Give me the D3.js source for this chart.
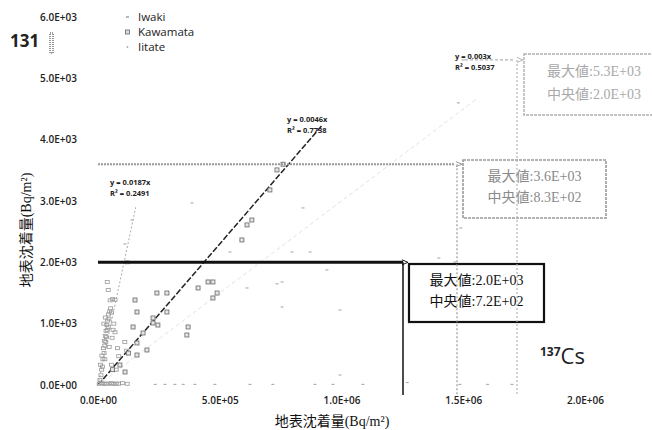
<!DOCTYPE html>
<html>
<head>
<meta charset="utf-8">
<script src="https://cdn.jsdelivr.net/npm/d3@7/dist/d3.min.js"></script>
<style>
  body { margin: 0; background: #fff; }
  text { font-family: "Open Sans", "Liberation Sans", sans-serif; }
</style>
</head>
<body>
<svg id="chart" width="652" height="430"></svg>
<script>
// ---- data ----
const seriesNames = ["Iwaki", "Kawamata", "Iitate"];
const xTicks = [0, 5e5, 1e6, 1.5e6, 2e6];
const yTicks = [0, 1000, 2000, 3000, 4000, 5000, 6000];

// 137Cs deposition (x) vs 131I deposition (y), Bq/m2
const iwakiPts = [
  [8e3, 80], [12e3, 160], [15e3, 250], [10e3, 330], [18e3, 300], [20e3, 420],
  [16e3, 480], [25e3, 520], [22e3, 600], [28e3, 640], [26e3, 720], [32e3, 700],
  [30e3, 800], [35e3, 780], [33e3, 880], [38e3, 900], [36e3, 980], [42e3, 950],
  [40e3, 1050], [45e3, 1080], [43e3, 1150], [48e3, 1200], [52e3, 1250], [55e3, 1180],
  [50e3, 1380], [60e3, 1400], [70e3, 1390], [42e3, 1550], [38e3, 1680], [65e3, 1000],
  [70e3, 860], [80e3, 600], [85e3, 470], [110e3, 700], [118e3, 560], [75e3, 250],
  [55e3, 330], [120e3, 2000], [28e3, 420], [46e3, 620], [58e3, 770], [62e3, 900],
  [24e3, 1000], [30e3, 1100], [5e3, 20], [15e3, 30], [25e3, 15], [35e3, 25],
  [45e3, 20], [55e3, 30], [65e3, 15], [75e3, 25], [85e3, 20], [100e3, 30], [120e3, 20]
];
const kawamataPts = [
  [152e3, 1386], [242e3, 1500], [283e3, 1500], [160e3, 1190], [283e3, 1190],
  [144e3, 946], [226e3, 1011], [246e3, 978], [185e3, 848], [160e3, 685],
  [201e3, 571], [160e3, 489], [370e3, 946], [365e3, 815], [226e3, 1093],
  [452e3, 1680], [472e3, 1680], [411e3, 1582], [489e3, 1500], [472e3, 1419],
  [632e3, 2690], [612e3, 2610], [591e3, 2365], [735e3, 3507], [706e3, 3180],
  [760e3, 3600], [111e3, 212], [90e3, 326], [60e3, 250], [125e3, 520]
];
const iitatePts = [
  [842e3, 2887], [797e3, 2169], [871e3, 2169], [940e3, 1876], [756e3, 1680],
  [735e3, 1650], [756e3, 1272], [583e3, 2006], [542e3, 2169], [612e3, 1582],
  [386e3, 2968], [140e3, 2690], [110e3, 2300], [994e3, 1223], [994e3, 163],
  [1.40e6, 2071], [1.466e6, 2006], [1.49e6, 2560], [1.50e6, 5300], [1.48e6, 4600],
  [480e3, 10], [624e3, 10], [718e3, 10], [891e3, 10], [965e3, 10], [1.088e6, 10],
  [1.27e6, 40], [1.486e6, 10], [1.60e6, 10], [1.70e6, 10],
  [235e3, 10], [275e3, 10], [316e3, 10], [350e3, 10], [398e3, 10]
];

// linear fits through the origin
const slopes = [0.0187, 0.0046, 0.003];
const rSquared = ["0.2491", "0.7738", "0.5037"];
const fitEnds = [1.55e5, 9.2e5, 1.55e6];

// 131I summary per area
const maxI = [2000, 3600, 5300];
const medI = [720, 830, 2000];

// ---- layout ----
const svg = d3.select("#chart");
const x = d3.scaleLinear().domain([0, 2e6]).range([98, 585]);
const y = d3.scaleLinear().domain([0, 6000]).range([385, 17]);
const fmt = v => v.toExponential(1).toUpperCase().replace(/E([+-])(\d)$/, "E$10$2");
const serif = "'Liberation Serif', 'Noto Sans CJK JP', serif";

// axes (no axis line, labels only)
const yAxis = svg.append("g").attr("transform", "translate(80,0)")
  .call(d3.axisLeft(y).tickValues(yTicks).tickSize(0).tickPadding(3).tickFormat(fmt));
const xAxis = svg.append("g").attr("transform", "translate(0,390)")
  .call(d3.axisBottom(x).tickValues(xTicks).tickSize(0).tickPadding(7).tickFormat(fmt));
[yAxis, xAxis].forEach(g => {
  g.select(".domain").remove();
  g.selectAll("text").attr("font-size", 10).attr("font-weight", 600).attr("fill", "#222")
    .style("font-family", "'Open Sans', sans-serif");
});

// axis titles
svg.append("text").attr("x", 332).attr("y", 426).attr("text-anchor", "middle")
  .attr("font-size", 14).attr("fill", "#111").style("font-family", serif)
  .text("地表沈着量(Bq/m²)");
svg.append("text").attr("transform", "translate(31,230) rotate(-90)").attr("text-anchor", "middle")
  .attr("font-size", 14).attr("fill", "#111").style("font-family", serif)
  .text("地表沈着量(Bq/m²)");

// nuclide tags
svg.append("text").attr("x", 10).attr("y", 47).attr("font-size", 17).attr("font-weight", 700)
  .attr("fill", "#222").text("131");
svg.append("rect").attr("x", 50).attr("y", 33).attr("width", 3).attr("height", 20)
  .attr("fill", "none").attr("stroke", "#333").attr("stroke-width", 1).attr("stroke-dasharray", "1,1");
const cs = svg.append("text").attr("x", 540).attr("y", 364).attr("fill", "#222");
cs.append("tspan").attr("font-size", 12).attr("font-weight", 700).attr("dy", -8).text("137");
cs.append("tspan").attr("font-size", 22).attr("dy", 8).text("Cs");

// trend lines
const lineStyles = [
  { stroke: "#aaa", width: 1, dash: "2,2" },
  { stroke: "#222", width: 1.5, dash: "6,2" },
  { stroke: "#e2e2e2", width: 1, dash: "4,3" }
];
slopes.forEach((s, i) => {
  const st = lineStyles[i];
  svg.append("line")
    .attr("x1", x(0)).attr("y1", y(0))
    .attr("x2", x(fitEnds[i])).attr("y2", y(s * fitEnds[i]))
    .attr("stroke", st.stroke).attr("stroke-width", st.width).attr("stroke-dasharray", st.dash);
});

// scatter points
const g = svg.append("g");
g.selectAll(".iw").data(iwakiPts).join("rect").attr("class", "iw")
  .attr("x", d => x(d[0]) - 2).attr("y", d => y(d[1]) - 1.5).attr("width", 4).attr("height", 3)
  .attr("fill", "none").attr("stroke", "#999").attr("stroke-width", 0.8);
g.selectAll(".kw").data(kawamataPts).join("rect").attr("class", "kw")
  .attr("x", d => x(d[0]) - 2).attr("y", d => y(d[1]) - 2).attr("width", 4).attr("height", 4)
  .attr("fill", "#e6e6e6").attr("stroke", "#666").attr("stroke-width", 0.8);
g.selectAll(".it").data(iitatePts).join("path").attr("class", "it")
  .attr("d", d => `M${x(d[0]) - 1.5},${y(d[1])}h3`)
  .attr("stroke", "#aaa").attr("stroke-width", 1.1);

// legend
const legY = [17, 32, 47];
seriesNames.forEach((n, i) => {
  const ly = legY[i];
  if (i === 0) svg.append("path").attr("d", `M126,${ly}h3`).attr("stroke", "#888").attr("stroke-width", 1.2);
  if (i === 1) svg.append("rect").attr("x", 125.5).attr("y", ly - 2).attr("width", 4).attr("height", 4)
    .attr("fill", "#ddd").attr("stroke", "#666").attr("stroke-width", 0.8);
  if (i === 2) svg.append("circle").attr("cx", 127.5).attr("cy", ly).attr("r", 0.9).attr("fill", "#aaa");
  svg.append("text").attr("x", 138).attr("y", ly + 4).attr("font-size", 11.5).attr("fill", "#222").text(n);
});

// regression labels
const eqPos = [[110, 185], [287, 122], [455, 59]];
slopes.forEach((s, i) => {
  const t = svg.append("text").attr("x", eqPos[i][0]).attr("y", eqPos[i][1])
    .attr("font-size", 7.5).attr("font-weight", 700).attr("fill", "#222");
  t.append("tspan").text(`y = ${s}x`);
  t.append("tspan").attr("x", eqPos[i][0]).attr("dy", 11).text(`R² = ${rSquared[i]}`);
});

// max-value guides and summary boxes
const guide = [
  { x0: x(0), xEnd: 403, xv: 403, stroke: "#111", width: 3, vwidth: 1.5, dash: null, box: [409, 264, 135, 58], boxStroke: "#111", boxWidth: 2.2, txt: "#111" },
  { x0: x(0), xEnd: 455, xv: 457, stroke: "#999", width: 2, vwidth: 1.2, dash: "2,1", box: [463, 160, 143, 58], boxStroke: "#999", boxWidth: 1.6, txt: "#8a8a8a" },
  { x0: 465, xEnd: 514, xv: 517, stroke: "#b5b5b5", width: 1.2, vwidth: 1.2, dash: "3,2", box: [524, 54, 140, 61], boxStroke: "#b0b0b0", boxWidth: 1.4, txt: "#a9a9a9" }
];
maxI.forEach((m, i) => {
  const gd = guide[i];
  const yy = y(m);
  svg.append("line").attr("x1", gd.x0).attr("x2", gd.xEnd).attr("y1", yy).attr("y2", yy)
    .attr("stroke", gd.stroke).attr("stroke-width", gd.width).attr("stroke-dasharray", gd.dash);
  svg.append("path").attr("d", `M${gd.box[0] - 7},${yy - 2.5}L${gd.box[0] - 1},${yy}L${gd.box[0] - 7},${yy + 2.5}`)
    .attr("fill", "none").attr("stroke", gd.stroke).attr("stroke-width", 1);
  svg.append("line").attr("x1", gd.xv).attr("x2", gd.xv).attr("y1", yy).attr("y2", 395)
    .attr("stroke", gd.stroke).attr("stroke-width", gd.vwidth).attr("stroke-dasharray", i === 0 ? null : "2,2");
  const [bx, by, bw, bh] = gd.box;
  svg.append("rect").attr("x", bx).attr("y", by).attr("width", bw).attr("height", bh)
    .attr("fill", "#fff").attr("stroke", gd.boxStroke).attr("stroke-width", gd.boxWidth)
    .attr("stroke-dasharray", i === 0 ? null : "3,1");
  const tx = bx + bw / 2;
  [["最大値:", m, by + bh * 0.36], ["中央値:", medI[i], by + bh * 0.73]].forEach(([lab, v, ty]) => {
    svg.append("text").attr("x", tx).attr("y", ty).attr("text-anchor", "middle")
      .attr("font-size", 14).attr("fill", gd.txt).style("font-family", serif)
      .text(lab + fmt(v));
  });
});
</script>
</body>
</html>
